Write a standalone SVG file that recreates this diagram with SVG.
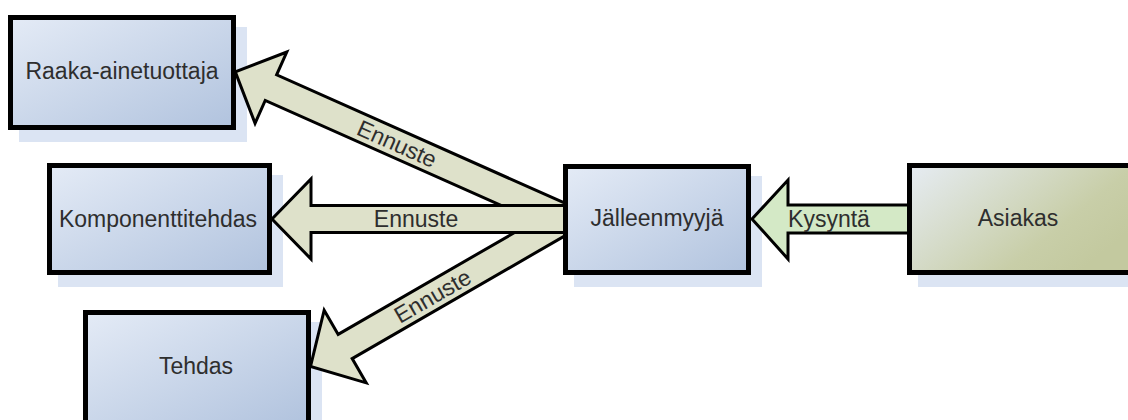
<svg xmlns="http://www.w3.org/2000/svg" width="1128" height="420" viewBox="0 0 1128 420">
  <defs>
    <linearGradient id="gBlue" x1="0" y1="0" x2="1" y2="1">
      <stop offset="0" stop-color="#e4ebf6"/>
      <stop offset="1" stop-color="#b1c3de"/>
    </linearGradient>
    <linearGradient id="gOlive" x1="0" y1="0" x2="1" y2="0.6">
      <stop offset="0" stop-color="#e6ecf3"/>
      <stop offset="0.75" stop-color="#c8cea8"/>
      <stop offset="1" stop-color="#c3c99f"/>
    </linearGradient>
    <style>
      .shadow { fill: #dbe4f3; }
      .box { stroke: #000; stroke-width: 5; }
      .blue { fill: url(#gBlue); }
      .olive { fill: url(#gOlive); }
      .arrow { fill: #dee1ca; stroke: #000; stroke-width: 3; stroke-linejoin: miter; }
      .demand { fill: #d4e9c6; stroke: #000; stroke-width: 3; stroke-linejoin: miter; }
      .label { font-family: "Liberation Sans", Arial, sans-serif; font-size: 23px; fill: #2e2e2e; text-anchor: middle; }
    </style>
  </defs>

  <!-- drop shadows behind the boxes -->
  <g id="shadows">
    <rect class="shadow" x="19" y="27" width="228" height="115"/>
    <rect class="shadow" x="58" y="175" width="225" height="112"/>
    <rect class="shadow" x="94" y="322" width="228" height="112"/>
    <rect class="shadow" x="574" y="176" width="188" height="111"/>
    <rect class="shadow" x="918" y="175" width="225" height="112"/>
  </g>

  <!-- block arrows -->
  <g id="connectors">
    <g id="arrow-raaka" transform="translate(566,219) rotate(24)">
      <polygon class="arrow" points="0,-14 -323,-14 -323,-39 -362,0 -323,39 -323,14 0,14"/>
      <text class="label" x="-185" y="8">Ennuste</text>
    </g>
    <g id="arrow-tehdas" transform="translate(566,219) rotate(-30)">
      <polygon class="arrow" points="0,-14 -255,-14 -255,-42 -295,0 -255,42 -255,14 0,14"/>
      <text class="label" x="-154" y="8">Ennuste</text>
    </g>
    <g id="arrow-komponentti" transform="translate(566,219)">
      <polygon class="arrow" points="0,-13.5 -255,-13.5 -255,-40 -294,0 -255,40 -255,13.5 0,13.5"/>
      <text class="label" x="-150" y="8">Ennuste</text>
    </g>
    <g id="arrow-kysynta">
      <polygon class="demand" points="912,205 788,205 788,180 752,219 788,259 788,233 912,233"/>
      <text class="label" x="829" y="227">Kysyntä</text>
    </g>
  </g>

  <g id="node-raaka">
    <rect class="box blue" x="10.5" y="17.5" width="223" height="110"/>
    <text class="label" x="122" y="79">Raaka-ainetuottaja</text>
  </g>
  <g id="node-komponentti">
    <rect class="box blue" x="49.5" y="165.5" width="220" height="107"/>
    <text class="label" x="158" y="227">Komponenttitehdas</text>
  </g>
  <g id="node-tehdas">
    <rect class="box blue" x="85.5" y="312.5" width="223" height="110"/>
    <text class="label" x="196" y="374">Tehdas</text>
  </g>
  <g id="node-jalleenmyyja">
    <rect class="box blue" x="565.5" y="166.5" width="183" height="106"/>
    <text class="label" x="657" y="226">Jälleenmyyjä</text>
  </g>
  <g id="node-asiakas">
    <rect class="box olive" x="909.5" y="165.5" width="222" height="107"/>
    <text class="label" x="1018" y="226">Asiakas</text>
  </g>
</svg>
